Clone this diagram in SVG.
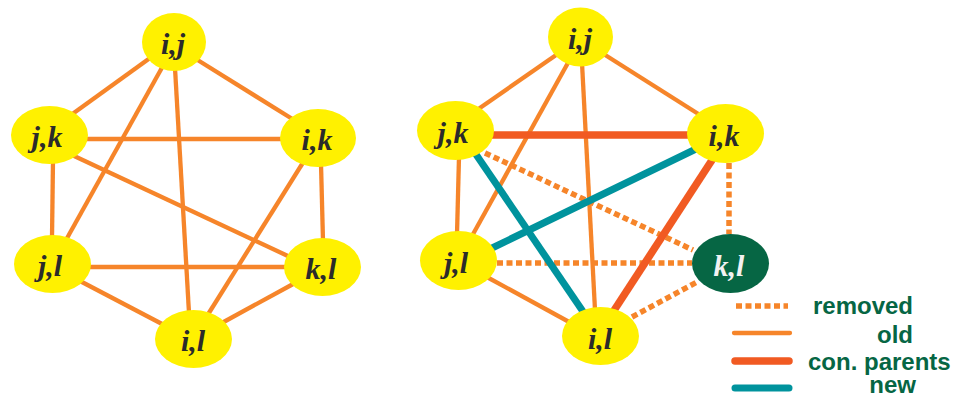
<svg xmlns="http://www.w3.org/2000/svg" width="955" height="396" viewBox="0 0 955 396">
<style>
.old{stroke:#F6852A;stroke-width:4.3;fill:none}
.con{stroke:#F15A22;stroke-width:7.5;fill:none}
.new{stroke:#00939D;stroke-width:7;fill:none}
.rem{stroke:#F6852A;stroke-width:5.5;stroke-dasharray:6 3.5;fill:none}
.node{fill:#FFF100}
.gnode{fill:#066644}
.lbl{font-family:"Liberation Serif","Times New Roman",serif;font-weight:bold;font-style:italic;font-size:30px;fill:#2B2B2B;text-anchor:middle}
.wl{fill:#F2F2F2}
.leg{font-family:"Liberation Sans",Arial,sans-serif;font-weight:bold;font-size:24px;fill:#066644}
</style>
<g id="connectors">
<g id="left-edges">
<line class="old" x1="150" y1="58" x2="71" y2="115"/>
<line class="old" x1="196" y1="59" x2="294" y2="120"/>
<line class="old" x1="164" y1="64" x2="66" y2="240"/>
<line class="old" x1="175" y1="68" x2="189" y2="313"/>
<line class="old" x1="85" y1="139" x2="283" y2="139"/>
<line class="old" x1="53" y1="160" x2="52" y2="238"/>
<line class="old" x1="72" y1="155" x2="290" y2="257"/>
<line class="old" x1="321" y1="164" x2="323" y2="241"/>
<line class="old" x1="304" y1="161" x2="207" y2="316"/>
<line class="old" x1="88" y1="267" x2="287" y2="267"/>
<line class="old" x1="80" y1="281" x2="164" y2="325"/>
<line class="old" x1="295" y1="283" x2="220" y2="324"/>
</g>
<g id="right-edges">
<line class="old" x1="559" y1="53" x2="477" y2="110"/>
<line class="old" x1="602" y1="53" x2="700" y2="115"/>
<line class="old" x1="569" y1="61" x2="472" y2="236"/>
<line class="old" x1="582" y1="63" x2="595" y2="310"/>
<line class="old" x1="459" y1="157" x2="457" y2="234"/>
<line class="old" x1="485" y1="276" x2="571" y2="323"/>
<line class="rem" x1="485" y1="153" x2="693" y2="250"/>
<line class="rem" x1="729" y1="163" x2="729" y2="234"/>
<line class="rem" x1="497" y1="263" x2="692" y2="263"/>
<line class="rem" x1="632" y1="317" x2="697" y2="282"/>
<line class="con" x1="490" y1="135" x2="690" y2="135"/>
<line class="con" x1="714" y1="157" x2="613" y2="312"/>
<line class="new" x1="473" y1="150" x2="584" y2="313"/>
<line class="new" x1="698" y1="148" x2="490" y2="249"/>
</g>
</g>
<g id="L-ij"><ellipse class="node" cx="174" cy="42" rx="32" ry="29"/><text class="lbl" x="173" y="54">i,j</text></g>
<g id="L-jk"><ellipse class="node" cx="49.5" cy="135" rx="38.5" ry="29"/><text class="lbl" x="47" y="147">j,k</text></g>
<g id="L-ik"><ellipse class="node" cx="318" cy="138" rx="38" ry="29"/><text class="lbl" x="317" y="150">i,k</text></g>
<g id="L-jl"><ellipse class="node" cx="52.5" cy="264" rx="38.5" ry="29"/><text class="lbl" x="50" y="276">j,l</text></g>
<g id="L-kl"><ellipse class="node" cx="322.5" cy="267" rx="38.5" ry="29"/><text class="lbl" x="321" y="279">k,l</text></g>
<g id="L-il"><ellipse class="node" cx="193.5" cy="339" rx="38.5" ry="29"/><text class="lbl" x="193" y="351">i,l</text></g>
<g id="R-ij"><ellipse class="node" cx="580.5" cy="37" rx="32.5" ry="29.5"/><text class="lbl" x="580" y="49">i,j</text></g>
<g id="R-jk"><ellipse class="node" cx="455.5" cy="130.5" rx="38.5" ry="29.5"/><text class="lbl" x="453" y="143">j,k</text></g>
<g id="R-ik"><ellipse class="node" cx="725.5" cy="133.5" rx="38.5" ry="29.5"/><text class="lbl" x="724" y="146">i,k</text></g>
<g id="R-jl"><ellipse class="node" cx="458.5" cy="260.5" rx="38.5" ry="29.5"/><text class="lbl" x="456" y="273">j,l</text></g>
<g id="R-kl"><ellipse class="gnode" cx="730.5" cy="263.5" rx="38.5" ry="29.5"/><text class="lbl wl" x="729" y="276">k,l</text></g>
<g id="R-il"><ellipse class="node" cx="600.5" cy="336" rx="38.5" ry="29"/><text class="lbl" x="600" y="349">i,l</text></g>
<g id="legend">
<line class="rem" x1="736" y1="306" x2="788" y2="306" stroke-width="6"/>
<line class="old" x1="734" y1="333" x2="790" y2="333" stroke-linecap="round" stroke-width="4.5"/>
<line class="con" x1="735" y1="361" x2="789" y2="361" stroke-linecap="round"/>
<line class="new" x1="735" y1="388" x2="789" y2="388" stroke-linecap="round" stroke-width="7.5"/>
<text class="leg" x="913" y="314" text-anchor="end">removed</text>
<text class="leg" x="913" y="343" text-anchor="end">old</text>
<text class="leg" x="808" y="370">con. parents</text>
<text class="leg" x="916" y="393" text-anchor="end">new</text>
</g>
</svg>
